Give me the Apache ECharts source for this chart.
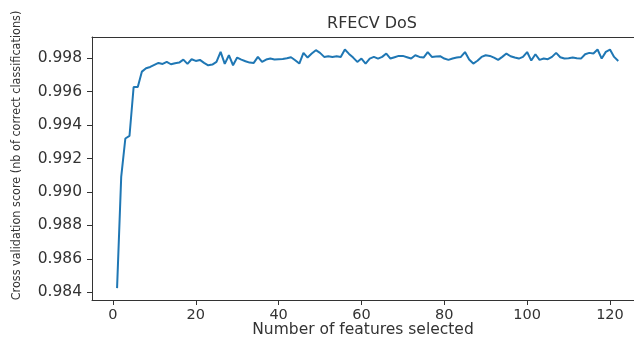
<!DOCTYPE html>
<html>
<head>
<meta charset="utf-8">
<script src="https://cdn.jsdelivr.net/npm/echarts@6/dist/echarts.min.js"></script>
<style>
    html, body { margin: 0; padding: 0; background: #fff; }
    #cn { width: 634px; height: 337px; }
</style>
</head>
<body>
<div id="cn"></div>
<script>
'use strict';

// number of features selected (1..122)
const arrFeatures = Array.from({ length: 122 }, (_, i) => i + 1);

// cross validation score
const arrScore = [
    0.98425, 0.9909, 0.9932, 0.99335, 0.99628, 0.99628, 0.9972, 0.9974, 0.99748, 0.9976,
    0.99772, 0.99766, 0.99778, 0.99764, 0.9977, 0.99774, 0.99792, 0.99766, 0.99794, 0.99784,
    0.9979, 0.99772, 0.99758, 0.99762, 0.99778, 0.99838, 0.99766, 0.99818, 0.99758, 0.99804,
    0.99792, 0.99782, 0.99774, 0.99772, 0.99808, 0.99778, 0.99792, 0.99798, 0.99792, 0.99794,
    0.99796, 0.998, 0.99806, 0.99788, 0.99768, 0.99832, 0.99804, 0.99828, 0.99848, 0.99832,
    0.99808, 0.99812, 0.99808, 0.99812, 0.99808, 0.99852, 0.99826, 0.99804, 0.99778, 0.99798,
    0.99768, 0.99798, 0.99808, 0.99798, 0.99808, 0.99828, 0.99798, 0.99806, 0.99814, 0.99814,
    0.99806, 0.99798, 0.99818, 0.99808, 0.99804, 0.99837, 0.99808, 0.9981, 0.99812, 0.99798,
    0.9979, 0.99798, 0.99804, 0.99808, 0.99837, 0.99792, 0.99768, 0.99785, 0.99808, 0.99818,
    0.99814, 0.99804, 0.9979, 0.99808, 0.99828, 0.99812, 0.99804, 0.99798, 0.99808, 0.99837,
    0.99786, 0.99824, 0.9979, 0.99798, 0.99794, 0.99808, 0.99832, 0.99806, 0.99798, 0.998,
    0.99804, 0.998, 0.99798, 0.99824, 0.99832, 0.99828, 0.99852, 0.99798, 0.99838, 0.99852,
    0.99808, 0.99784
];

const arrTickX = [0, 20, 40, 60, 80, 100, 120];
const arrTickY = [0.984, 0.986, 0.988, 0.990, 0.992, 0.994, 0.996, 0.998];

const strFont = 'DejaVu Sans';
const strAxisColor = '#333';
const strTextColor = '#333';

const optionChart = {
    animation: false,
    title: {
        text: 'RFECV DoS',
        left: 367,
        top: 11,
        textAlign: 'center',
        textStyle: {
            fontFamily: strFont,
            fontSize: 16,
            fontWeight: 'normal',
            color: strTextColor
        }
    },
    grid: {
        left: 92,
        right: 0,
        top: 37,
        bottom: 37,
        containLabel: false,
        outerBoundsMode: 'none'
    },
    xAxis: [{
            type: 'value',
            min: -5.05,
            max: 125.8,
            position: 'bottom',
            name: 'Number of features selected',
            nameLocation: 'middle',
            nameGap: 22,
            nameMoveOverlap: false,
            nameTextStyle: {
                fontFamily: strFont,
                fontSize: 15.5,
                color: strTextColor
            },
            axisLine: {
                show: true,
                onZero: false,
                lineStyle: { color: strAxisColor, width: 1 }
            },
            axisTick: {
                show: true,
                length: 5,
                customValues: arrTickX,
                lineStyle: { color: strAxisColor }
            },
            axisLabel: {
                customValues: arrTickX,
                margin: 8,
                fontFamily: strFont,
                fontSize: 14.5,
                color: strTextColor
            },
            splitLine: { show: false }
        },
        {
            // top spine only
            type: 'value',
            min: -5.05,
            max: 125.8,
            position: 'top',
            axisLine: {
                show: true,
                onZero: false,
                lineStyle: { color: strAxisColor, width: 1 }
            },
            axisTick: { show: false },
            axisLabel: { show: false },
            splitLine: { show: false }
        }
    ],
    yAxis: {
        type: 'value',
        min: 0.98354,
        max: 0.99927,
        name: 'Cross validation score (nb of correct classifications)',
        nameLocation: 'middle',
        nameGap: 69,
        nameTextStyle: {
            fontFamily: 'DejaVu Sans Condensed',
            fontSize: 12.5,
            color: strTextColor,
            padding: [0, 0, 0, 26] //上方向へずらす
        },
        axisLine: {
            show: true,
            onZero: false,
            lineStyle: { color: strAxisColor, width: 1 }
        },
        axisTick: {
            show: true,
            length: 5,
            customValues: arrTickY,
            lineStyle: { color: strAxisColor }
        },
        axisLabel: {
            customValues: arrTickY,
            margin: 10,
            fontFamily: strFont,
            fontSize: 15.5,
            color: strTextColor,
            formatter: (v) => v.toFixed(3)
        },
        splitLine: { show: false }
    },
    series: [{
        type: 'line',
        data: arrFeatures.map((n, i) => [n, arrScore[i]]),
        symbol: 'none',
        showSymbol: false,
        lineStyle: {
            width: 2,
            color: '#1f77b4'
        },
        itemStyle: {
            color: '#1f77b4'
        }
    }]
};

//main
{
    const echartsPanda = echarts.init(document.getElementById('cn'));
    echartsPanda.setOption(optionChart);
}
</script>
</body>
</html>
